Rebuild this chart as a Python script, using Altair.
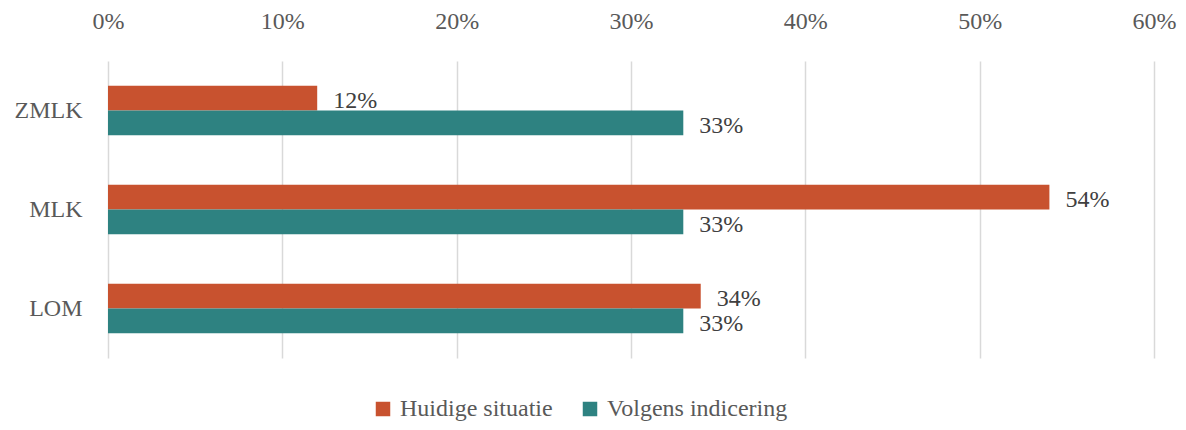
import altair as alt
import pandas as pd

categories = ["ZMLK", "MLK", "LOM"]
series = ["Huidige situatie", "Volgens indicering"]
huidige = [0.12, 0.54, 0.34]
volgens = [0.33, 0.33, 0.33]
colors = ["#C8522F", "#2E8281"]
x_ticks = [0, 0.1, 0.2, 0.3, 0.4, 0.5, 0.6]

rows = []
for c, h, v in zip(categories, huidige, volgens):
    rows.append({"cat": c, "series": series[0], "value": h})
    rows.append({"cat": c, "series": series[1], "value": v})
df = pd.DataFrame(rows)

FONT = "Liberation Serif"
FS = 24

y_enc = alt.Y("cat:N", sort=categories, title=None,
              scale=alt.Scale(paddingInner=0.5, paddingOuter=0.25),
              axis=alt.Axis(domain=False, ticks=False, labelPadding=26,
                            labelFontSize=FS, labelColor="#595959", labelFont=FONT))
yoff = alt.YOffset("series:N", sort=series)
x_enc = alt.X("value:Q", title=None,
              scale=alt.Scale(domain=[0, 0.6], nice=False),
              axis=alt.Axis(orient="top", format=".0%", values=x_ticks, domain=False,
                            ticks=False, labelPadding=28, labelFontSize=FS,
                            labelFlush=False,
                            labelColor="#595959", labelFont=FONT,
                            gridColor="#D9D9D9", gridWidth=1.5))

bars = alt.Chart(df).mark_bar().encode(
    x=x_enc, y=y_enc, yOffset=yoff,
    color=alt.Color("series:N", sort=series,
                    scale=alt.Scale(domain=series, range=colors),
                    legend=alt.Legend(title=None, orient="none", direction="horizontal",
                                      legendX=263, legendY=336, symbolType="square",
                                      symbolSize=210, symbolStrokeWidth=0,
                                      labelFontSize=FS, labelFont=FONT,
                                      labelColor="#595959", columnPadding=25,
                                      labelOffset=5, labelLimit=400)),
)

labels = alt.Chart(df).mark_text(align="left", baseline="middle", dx=16, dy=3,
                                 fontSize=FS, font=FONT, color="#404040").encode(
    x="value:Q", y=alt.Y("cat:N", sort=categories), yOffset=yoff,
    text=alt.Text("value:Q", format=".0%"),
)

chart = (bars + labels).properties(
    width=1046, height=297,
    autosize=alt.AutoSizeParams(type="none"),
    padding={"left": 100, "top": 53, "right": 24, "bottom": 64},
).configure_view(stroke=None)

chart.save("out.html", embed_options={"renderer": "svg", "actions": False})
